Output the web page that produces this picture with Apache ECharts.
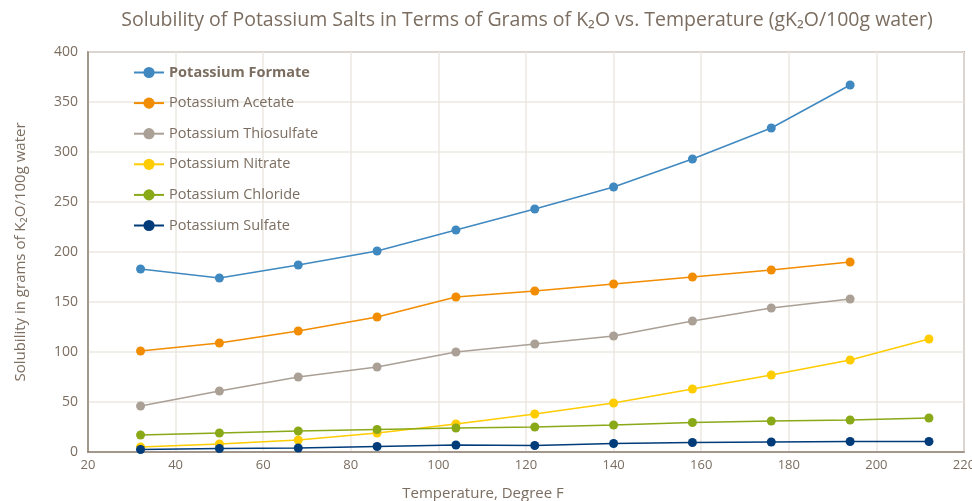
<!DOCTYPE html>
<html>
<head>
<meta charset="utf-8">
<script src="https://cdn.jsdelivr.net/npm/echarts@6/dist/echarts.min.js"></script>
<style>html,body{margin:0;padding:0;background:#fff}#c{width:972px;height:501px}</style>
</head>
<body>
<div id="c"></div>
<script>
var temps = [32, 50, 68, 86, 104, 122, 140, 158, 176, 194, 212];
var seriesNames = ['Potassium Formate', 'Potassium Acetate', 'Potassium Thiosulfate', 'Potassium Nitrate', 'Potassium Chloride', 'Potassium Sulfate'];
var formate = [183, 174, 187, 201, 222, 243, 265, 293, 324, 367];
var acetate = [101, 109, 121, 135, 155, 161, 168, 175, 182, 190];
var thiosulfate = [46, 61, 75, 85, 100, 108, 116, 131, 144, 153];
var nitrate = [5, 8, 12, 19, 28, 38, 49, 63, 77, 92, 113];
var chloride = [17, 19, 21, 22.5, 24, 25, 27, 29.5, 31, 32, 34];
var sulfate = [2.5, 3.5, 4, 5.5, 7, 6.5, 8.5, 9.5, 10, 10.5, 10.5];
var colors = ['#3f88c0', '#f28c00', '#aaa096', '#ffcc00', '#8aa918', '#003b7a'];
var values = [formate, acetate, thiosulfate, nitrate, chloride, sulfate];

var textColor = '#7b6d60';
var font = 'Open Sans';

function pairs(arr) {
  return arr.map(function (v, i) { return [temps[i], v]; });
}

var chart = echarts.init(document.getElementById('c'), null, {renderer: 'canvas'});
chart.setOption({
  animation: false,
  color: colors,
  title: {
    text: 'Solubility of Potassium Salts in Terms of Grams of K\u2082O vs. Temperature (gK\u2082O/100g water)',
    left: 522,
    textAlign: 'center',
    top: 5,
    textStyle: {color: textColor, fontFamily: font, fontSize: 19.5, fontWeight: 'normal'}
  },
  legend: {
    orient: 'vertical',
    left: 133,
    top: 65,
    padding: 0,
    itemWidth: 30,
    itemHeight: 14,
    itemGap: 15.6,
    data: seriesNames,
    formatter: function (n) { return n === 'Potassium Formate' ? '{b|' + n + '}' : n; },
    textStyle: {
      color: textColor, fontFamily: font, fontSize: 14.5,
      rich: {b: {fontWeight: 'bold', color: textColor, fontFamily: font, fontSize: 14.5}}
    }
  },
  grid: {
    left: 88, right: 8, top: 52, bottom: 49,
    outerBoundsMode: 'none',
    containLabel: false,
    show: true, borderColor: '#8f8274', borderWidth: 1.5
  },
  xAxis: {
    type: 'value', min: 20, max: 220, interval: 20,
    name: 'Temperature, Degree F',
    nameLocation: 'middle', nameGap: 34,
    nameTextStyle: {color: textColor, fontFamily: font, fontSize: 15, padding: [0, 86, 0, 0]},
    axisLine: {show: true, lineStyle: {color: '#8f8274', width: 1.5}},
    axisTick: {show: false},
    axisLabel: {color: textColor, fontFamily: font, fontSize: 13, margin: 7},
    splitLine: {show: true, lineStyle: {color: '#ece7e2', width: 1.5}}
  },
  yAxis: {
    type: 'value', min: 0, max: 400, interval: 50,
    name: 'Solubility in grams of K\u2082O/100g water',
    nameLocation: 'middle', nameGap: 60, nameRotate: 90,
    nameTextStyle: {color: textColor, fontFamily: font, fontSize: 15},
    axisLine: {show: true, lineStyle: {color: '#8f8274', width: 1.5}},
    axisTick: {show: false},
    axisLabel: {color: textColor, fontFamily: font, fontSize: 14, margin: 10},
    splitLine: {show: true, lineStyle: {color: '#ece7e2', width: 1.5}}
  },
  series: seriesNames.map(function (n, i) {
    return {
      name: n, type: 'line', data: pairs(values[i]),
      symbol: 'circle', symbolSize: 9,
      lineStyle: {width: 1.5, color: colors[i]},
      itemStyle: {color: colors[i]}
    };
  })
});
</script>
</body>
</html>
